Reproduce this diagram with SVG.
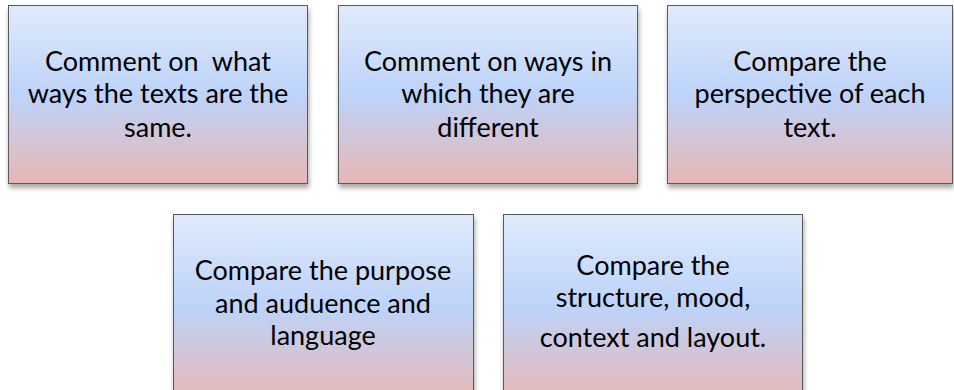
<svg xmlns="http://www.w3.org/2000/svg" width="954" height="390" viewBox="0 0 954 390">
<defs>
<linearGradient id="g" x1="0" y1="0" x2="0" y2="1">
<stop offset="0" stop-color="#e0eafc"/>
<stop offset="0.5" stop-color="#bdd3fa"/>
<stop offset="1" stop-color="#e7b7b5"/>
</linearGradient>
<filter id="sh" x="-5%" y="-5%" width="115%" height="120%">
<feGaussianBlur in="SourceAlpha" stdDeviation="2.5"/>
<feOffset dx="1" dy="4"/>
<feComponentTransfer><feFuncA type="linear" slope="0.35"/></feComponentTransfer>
<feMerge><feMergeNode/><feMergeNode in="SourceGraphic"/></feMerge>
</filter>
</defs>
<style>
.box{fill:url(#g);stroke:#5a5a5a;stroke-width:1;filter:url(#sh)}
.t{font-family:Lato,"Liberation Sans",sans-serif;font-size:27px;fill:#000;text-anchor:middle;white-space:pre}
</style>
<rect width="954" height="390" fill="#fff"/>
<g id="n1">
<rect class="box" x="8.5" y="5.5" width="299" height="178"/>
<text class="t" x="158" y="71" xml:space="preserve">Comment on  what</text>
<text class="t" x="158" y="103">ways the texts are the</text>
<text class="t" x="158" y="137">same.</text>
</g>
<g id="n2">
<rect class="box" x="338.5" y="5.5" width="299" height="178"/>
<text class="t" x="488" y="71">Comment on ways in</text>
<text class="t" x="488" y="103">which they are</text>
<text class="t" x="488" y="137">different</text>
</g>
<g id="n3">
<rect class="box" x="667.5" y="5.5" width="285" height="178"/>
<text class="t" x="810" y="71">Compare the</text>
<text class="t" x="810" y="103">perspective of each</text>
<text class="t" x="810" y="137">text.</text>
</g>
<g id="n4">
<rect class="box" x="173.5" y="214.5" width="300" height="185"/>
<text class="t" x="323" y="280">Compare the purpose</text>
<text class="t" x="323" y="313">and auduence and</text>
<text class="t" x="323" y="345">language</text>
</g>
<g id="n5">
<rect class="box" x="503.5" y="214.5" width="299" height="185"/>
<text class="t" x="653" y="275">Compare the</text>
<text class="t" x="653" y="307">structure, mood,</text>
<text class="t" x="653" y="347">context and layout.</text>
</g>
<g id="connectors"/>
</svg>
